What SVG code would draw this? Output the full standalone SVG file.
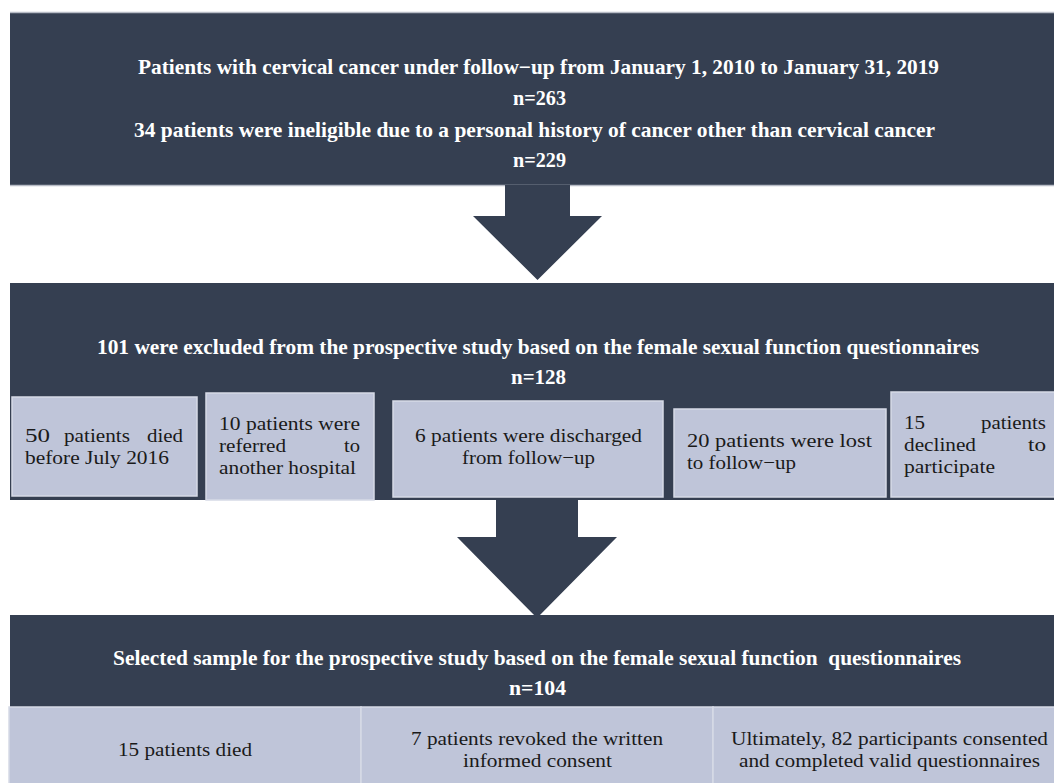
<svg xmlns="http://www.w3.org/2000/svg" width="1054" height="783" viewBox="0 0 1054 783">
<style>
.dark{fill:#353f51}
.edge{stroke:#b8bcc6;stroke-width:1.5}
.sub{fill:#bfc5d9;stroke:#d6dae6;stroke-width:1.5}
.cell{fill:#bfc5d9;stroke:#d6dae6;stroke-width:1.5}
.t{font-family:'Liberation Serif','Times New Roman',serif;font-weight:700;font-size:21px;fill:#ffffff}
.b{font-family:'Liberation Serif','Times New Roman',serif;font-weight:400;font-size:19px;fill:#1a1a1a}
</style>
<rect width="1054" height="783" fill="#ffffff"/>
<g id="box1">
<rect class="dark" x="10" y="12" width="1054" height="174"/>
<line class="edge" x1="10" y1="12.5" x2="1054" y2="12.5"/>
<line class="edge" x1="10" y1="185.5" x2="1054" y2="185.5"/>
<text class="t" x="138" y="74" textLength="801" lengthAdjust="spacingAndGlyphs">Patients with cervical cancer under follow−up from January 1, 2010 to January 31, 2019</text>
<text class="t" x="513" y="105" textLength="53" lengthAdjust="spacingAndGlyphs">n=263</text>
<text class="t" x="134" y="137" textLength="801" lengthAdjust="spacingAndGlyphs">34 patients were ineligible due to a personal history of cancer other than cervical cancer</text>
<text class="t" x="513" y="167" textLength="53" lengthAdjust="spacingAndGlyphs">n=229</text>
</g>
<g id="box2">
<rect class="dark" x="10" y="283" width="1054" height="217"/>
<text class="t" x="97" y="354" textLength="882" lengthAdjust="spacingAndGlyphs">101 were excluded from the prospective study based on the female sexual function questionnaires</text>
<text class="t" x="511" y="384" textLength="55" lengthAdjust="spacingAndGlyphs">n=128</text>
</g>
<g id="excl-died">
<rect class="sub" x="12" y="397" width="185" height="99"/>
<text class="b" x="25" y="442" textLength="25" lengthAdjust="spacingAndGlyphs">50</text>
<text class="b" x="64" y="442" textLength="66" lengthAdjust="spacingAndGlyphs">patients</text>
<text class="b" x="147" y="442" textLength="36" lengthAdjust="spacingAndGlyphs">died</text>
<text class="b" x="25" y="464" textLength="144" lengthAdjust="spacingAndGlyphs">before July 2016</text>
</g>
<g id="excl-referred">
<rect class="sub" x="206" y="393" width="168" height="107"/>
<text class="b" x="219" y="430" textLength="141" lengthAdjust="spacingAndGlyphs">10 patients were</text>
<text class="b" x="219" y="452" textLength="67" lengthAdjust="spacingAndGlyphs">referred</text>
<text class="b" x="344" y="452" textLength="16" lengthAdjust="spacingAndGlyphs">to</text>
<text class="b" x="219" y="474" textLength="137" lengthAdjust="spacingAndGlyphs">another hospital</text>
</g>
<g id="excl-discharged">
<rect class="sub" x="393" y="401" width="270" height="96"/>
<text class="b" x="415" y="442" textLength="227" lengthAdjust="spacingAndGlyphs">6 patients were discharged</text>
<text class="b" x="462" y="464" textLength="133" lengthAdjust="spacingAndGlyphs">from follow−up</text>
</g>
<g id="excl-lost">
<rect class="sub" x="674" y="409" width="212" height="88"/>
<text class="b" x="687" y="447" textLength="185" lengthAdjust="spacingAndGlyphs">20 patients were lost</text>
<text class="b" x="687" y="469" textLength="109" lengthAdjust="spacingAndGlyphs">to follow−up</text>
</g>
<g id="excl-declined">
<rect class="sub" x="891" y="392" width="170" height="105"/>
<text class="b" x="904" y="429" textLength="21" lengthAdjust="spacingAndGlyphs">15</text>
<text class="b" x="981" y="429" textLength="65" lengthAdjust="spacingAndGlyphs">patients</text>
<text class="b" x="904" y="451" textLength="72" lengthAdjust="spacingAndGlyphs">declined</text>
<text class="b" x="1028" y="451" textLength="18" lengthAdjust="spacingAndGlyphs">to</text>
<text class="b" x="904" y="473" textLength="91" lengthAdjust="spacingAndGlyphs">participate</text>
</g>
<g id="connectors">
<polygon class="dark" points="505,185 570,185 570,216 602,216 537.5,280 473,216 505,216"/>
<polygon class="dark" points="496,499 578,499 578,537 617,537 537,618 457,537 496,537"/>
</g>
<g id="box3">
<rect class="dark" x="10" y="615" width="1054" height="168"/>
<text class="t" x="113" y="665" textLength="848" lengthAdjust="spacingAndGlyphs" xml:space="preserve">Selected sample for the prospective study based on the female sexual function  questionnaires</text>
<text class="t" x="509" y="695" textLength="57" lengthAdjust="spacingAndGlyphs">n=104</text>
</g>
<g id="final-died">
<rect class="cell" x="9" y="707" width="352" height="78"/>
<text class="b" x="118" y="756" textLength="134" lengthAdjust="spacingAndGlyphs">15 patients died</text>
</g>
<g id="final-revoked">
<rect class="cell" x="361" y="707" width="352" height="78"/>
<text class="b" x="411" y="745" textLength="252" lengthAdjust="spacingAndGlyphs">7 patients revoked the written</text>
<text class="b" x="463" y="767" textLength="149" lengthAdjust="spacingAndGlyphs">informed consent</text>
</g>
<g id="final-completed">
<rect class="cell" x="713" y="707" width="352" height="78"/>
<text class="b" x="731" y="745" textLength="317" lengthAdjust="spacingAndGlyphs">Ultimately, 82 participants consented</text>
<text class="b" x="739" y="767" textLength="301" lengthAdjust="spacingAndGlyphs">and completed valid questionnaires</text>
</g>
</svg>
